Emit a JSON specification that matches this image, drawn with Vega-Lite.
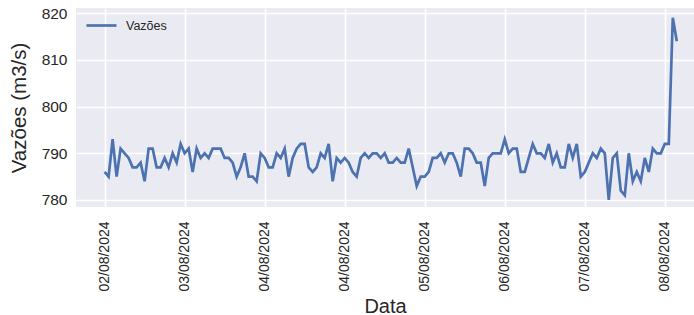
{
  "$schema": "https://vega.github.io/schema/vega-lite/v6.json",
  "autosize": {"type": "none"},
  "padding": {"left": 76, "top": 8, "right": 0, "bottom": 108},
  "width": 618,
  "height": 199,
  "background": "white",
  "config": {
    "view": {"fill": "#EAEAF2", "stroke": null},
    "font": "Liberation Sans",
    "axis": {
      "domain": false,
      "ticks": false,
      "gridColor": "white",
      "gridWidth": 1.6,
      "labelColor": "#262626",
      "titleColor": "#262626",
      "labelFont": "Liberation Sans",
      "titleFont": "Liberation Sans",
      "labelFontSize": 14,
      "titleFontSize": 19,
      "titleFontWeight": "normal"
    }
  },
  "data": {
    "values": [
      {"i": 0, "v": 786}, {"i": 1, "v": 785}, {"i": 2, "v": 793}, {"i": 3, "v": 785}, {"i": 4, "v": 791},
      {"i": 5, "v": 790}, {"i": 6, "v": 789}, {"i": 7, "v": 787}, {"i": 8, "v": 787}, {"i": 9, "v": 788},
      {"i": 10, "v": 784}, {"i": 11, "v": 791}, {"i": 12, "v": 791}, {"i": 13, "v": 787}, {"i": 14, "v": 787},
      {"i": 15, "v": 789}, {"i": 16, "v": 787}, {"i": 17, "v": 790}, {"i": 18, "v": 788}, {"i": 19, "v": 792},
      {"i": 20, "v": 790}, {"i": 21, "v": 791}, {"i": 22, "v": 786}, {"i": 23, "v": 791}, {"i": 24, "v": 789},
      {"i": 25, "v": 790}, {"i": 26, "v": 789}, {"i": 27, "v": 791}, {"i": 28, "v": 791}, {"i": 29, "v": 791},
      {"i": 30, "v": 789}, {"i": 31, "v": 789}, {"i": 32, "v": 788}, {"i": 33, "v": 785}, {"i": 34, "v": 787},
      {"i": 35, "v": 790}, {"i": 36, "v": 785}, {"i": 37, "v": 785}, {"i": 38, "v": 784}, {"i": 39, "v": 790},
      {"i": 40, "v": 789}, {"i": 41, "v": 787}, {"i": 42, "v": 787}, {"i": 43, "v": 790}, {"i": 44, "v": 789},
      {"i": 45, "v": 791}, {"i": 46, "v": 785}, {"i": 47, "v": 789}, {"i": 48, "v": 791}, {"i": 49, "v": 792},
      {"i": 50, "v": 792}, {"i": 51, "v": 787}, {"i": 52, "v": 786}, {"i": 53, "v": 787}, {"i": 54, "v": 790},
      {"i": 55, "v": 789}, {"i": 56, "v": 792}, {"i": 57, "v": 784}, {"i": 58, "v": 789}, {"i": 59, "v": 788},
      {"i": 60, "v": 789}, {"i": 61, "v": 788}, {"i": 62, "v": 786}, {"i": 63, "v": 785}, {"i": 64, "v": 789},
      {"i": 65, "v": 790}, {"i": 66, "v": 789}, {"i": 67, "v": 790}, {"i": 68, "v": 790}, {"i": 69, "v": 789},
      {"i": 70, "v": 790}, {"i": 71, "v": 788}, {"i": 72, "v": 788}, {"i": 73, "v": 789}, {"i": 74, "v": 788},
      {"i": 75, "v": 788}, {"i": 76, "v": 791}, {"i": 77, "v": 787}, {"i": 78, "v": 783}, {"i": 79, "v": 785},
      {"i": 80, "v": 785}, {"i": 81, "v": 786}, {"i": 82, "v": 789}, {"i": 83, "v": 789}, {"i": 84, "v": 790},
      {"i": 85, "v": 788}, {"i": 86, "v": 790}, {"i": 87, "v": 790}, {"i": 88, "v": 788}, {"i": 89, "v": 785},
      {"i": 90, "v": 791}, {"i": 91, "v": 791}, {"i": 92, "v": 790}, {"i": 93, "v": 788}, {"i": 94, "v": 788},
      {"i": 95, "v": 783}, {"i": 96, "v": 789}, {"i": 97, "v": 790}, {"i": 98, "v": 790}, {"i": 99, "v": 790},
      {"i": 100, "v": 793}, {"i": 101, "v": 790}, {"i": 102, "v": 791}, {"i": 103, "v": 791}, {"i": 104, "v": 786},
      {"i": 105, "v": 786}, {"i": 106, "v": 789}, {"i": 107, "v": 792}, {"i": 108, "v": 790}, {"i": 109, "v": 790},
      {"i": 110, "v": 789}, {"i": 111, "v": 792}, {"i": 112, "v": 788}, {"i": 113, "v": 790}, {"i": 114, "v": 787},
      {"i": 115, "v": 787}, {"i": 116, "v": 792}, {"i": 117, "v": 789}, {"i": 118, "v": 792}, {"i": 119, "v": 785},
      {"i": 120, "v": 786}, {"i": 121, "v": 788}, {"i": 122, "v": 790}, {"i": 123, "v": 789}, {"i": 124, "v": 791},
      {"i": 125, "v": 790}, {"i": 126, "v": 780}, {"i": 127, "v": 789}, {"i": 128, "v": 790}, {"i": 129, "v": 782},
      {"i": 130, "v": 781}, {"i": 131, "v": 790}, {"i": 132, "v": 784}, {"i": 133, "v": 786}, {"i": 134, "v": 784},
      {"i": 135, "v": 789}, {"i": 136, "v": 786}, {"i": 137, "v": 791}, {"i": 138, "v": 790}, {"i": 139, "v": 790},
      {"i": 140, "v": 792}, {"i": 141, "v": 792}, {"i": 142, "v": 819}, {"i": 143, "v": 814}
    ]
  },
  "mark": {"type": "line", "strokeWidth": 2.7, "clip": true},
  "encoding": {
    "x": {
      "field": "i",
      "type": "quantitative",
      "scale": {"domain": [-7.15, 147.3], "nice": false, "zero": false},
      "axis": {
        "title": "Data",
        "titleFontSize": 20,
        "values": [0, 20, 40, 60, 80, 100, 120, 140],
        "labelExpr": "['02/08/2024','03/08/2024','04/08/2024','04/08/2024','05/08/2024','06/08/2024','07/08/2024','08/08/2024'][datum.value/20]",
        "labelAngle": 270,
        "labelPadding": 14,
        "titlePadding": 5
      }
    },
    "y": {
      "field": "v",
      "type": "quantitative",
      "scale": {"domain": [778.5, 821.1], "nice": false, "zero": false},
      "axis": {
        "title": "Vazões (m3/s)",
        "titleFontSize": 20.5,
        "labelFontSize": 15.5,
        "values": [780, 790, 800, 810, 820],
        "labelPadding": 9,
        "titlePadding": 12
      }
    },
    "color": {
      "datum": "Vazões",
      "type": "nominal",
      "scale": {"range": ["#4C72B0"]},
      "legend": {
        "title": null,
        "orient": "none",
        "legendX": 9,
        "legendY": 1,
        "padding": 0,
        "symbolType": "stroke",
        "symbolSize": 900,
        "symbolStrokeWidth": 2.7,
        "labelFontSize": 12.5,
        "labelColor": "#262626",
        "labelFont": "Liberation Sans",
        "labelOffset": 8
      }
    }
  }
}
